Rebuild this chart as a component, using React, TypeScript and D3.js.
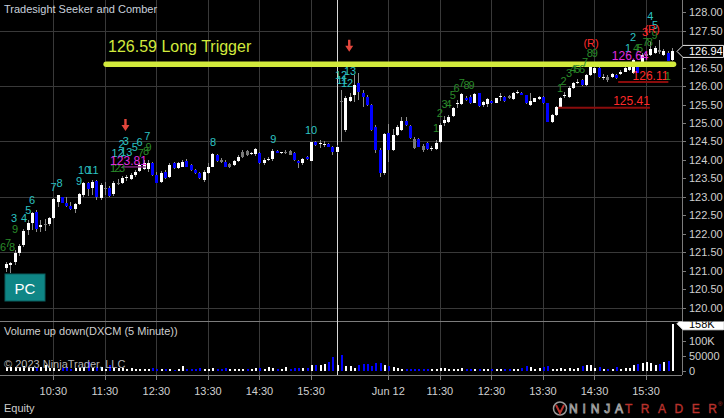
import React from "react";
import * as d3 from "d3";

// ---------- DATA ----------
const opens = [
  121.07, 121.15, 121.24, 121.49, 121.69, 122.10, 122.30, 122.60, 122.17, 122.26,
  122.26, 122.43, 122.87, 122.99, 122.83, 122.76, 122.66, 122.81, 123.05, 123.38,
  123.23, 123.43, 122.98, 123.24, 123.23, 123.08, 123.35, 123.38, 123.50, 123.47,
  123.59, 123.70, 123.75, 123.75, 123.91, 123.59, 123.41, 123.68, 123.54, 123.91,
  123.77, 123.82, 123.97, 123.86, 123.73, 123.65, 123.46, 123.64, 123.82, 124.13,
  124.00, 123.95, 123.82, 123.86, 123.98, 124.09, 124.24, 124.15, 124.15, 124.18,
  123.91, 124.01, 124.02, 124.25, 124.18, 124.21, 124.24, 124.18, 123.98, 123.92,
  124.09, 123.98, 124.49, 124.44, 124.42, 124.42, 124.36, 124.21,
  125.60, 124.81, 125.60, 125.76, 126.09, 125.80, 125.71, 125.49, 124.90, 124.27,
  123.64, 124.72, 124.27, 124.67, 124.81, 125.06, 124.92, 124.57, 124.56, 124.38,
  124.47, 124.31, 124.29, 124.49, 124.99, 125.04, 125.19, 125.53, 125.51, 125.69,
  125.71, 125.55, 125.80, 125.49, 125.51, 125.60, 125.55, 125.70, 125.71, 125.72,
  125.64, 125.84, 125.82, 125.76, 125.49, 125.58, 125.64, 125.71, 125.53, 125.03,
  125.22, 125.44, 125.75, 125.71, 125.94, 126.11, 126.17, 126.03, 126.30, 126.35,
  126.48, 126.25, 126.25, 126.24, 126.30, 126.33, 126.39, 126.44, 126.35, 126.53,
  126.57, 126.82, 126.84, 126.89, 126.98, 126.84, 126.90, 126.71,
];
const highs = [
  121.23, 121.24, 121.56, 121.72, 122.13, 122.37, 122.60, 122.64, 122.37, 122.40,
  122.46, 122.97, 123.05, 123.00, 122.99, 122.87, 122.83, 123.10, 123.41, 123.41,
  123.46, 123.46, 123.37, 123.41, 123.29, 123.43, 123.48, 123.56, 123.59, 123.65,
  123.73, 123.92, 124.00, 124.00, 123.94, 123.68, 123.70, 123.73, 123.91, 123.94,
  123.94, 124.00, 124.02, 123.89, 123.75, 123.68, 123.73, 123.91, 124.18, 124.15,
  124.05, 124.00, 123.91, 124.00, 124.13, 124.27, 124.27, 124.22, 124.33, 124.21,
  124.04, 124.08, 124.29, 124.27, 124.22, 124.27, 124.26, 124.21, 124.00, 124.04,
  124.11, 124.49, 124.51, 124.54, 124.51, 124.46, 124.38, 124.40,
  125.89, 125.73, 125.81, 126.30, 126.35, 125.89, 125.76, 125.52, 124.95, 124.32,
  124.73, 124.97, 124.83, 124.95, 125.16, 125.17, 124.95, 124.62, 124.59, 124.43,
  124.49, 124.38, 124.54, 124.99, 125.19, 125.22, 125.43, 125.62, 125.81, 125.73,
  125.75, 125.80, 125.82, 125.60, 125.67, 125.62, 125.69, 125.80, 125.74, 125.76,
  125.84, 125.89, 125.84, 125.77, 125.80, 125.69, 125.72, 125.73, 125.54, 125.24,
  125.46, 125.70, 125.84, 126.00, 126.11, 126.19, 126.19, 126.33, 126.66, 126.57,
  126.54, 126.33, 126.30, 126.36, 126.33, 126.44, 126.52, 126.57, 126.73, 126.65,
  126.90, 126.92, 127.20, 127.09, 127.25, 127.01, 126.95, 127.03,
];
const lows = [
  120.96, 120.93, 121.15, 121.40, 121.64, 121.96, 122.10, 122.05, 122.05, 122.07,
  122.21, 122.40, 122.72, 122.82, 122.73, 122.64, 122.55, 122.78, 123.00, 123.02,
  123.05, 122.91, 122.91, 123.05, 122.99, 123.02, 123.32, 123.36, 123.43, 123.46,
  123.54, 123.67, 123.73, 123.68, 123.56, 123.37, 123.37, 123.48, 123.50, 123.75,
  123.75, 123.80, 123.81, 123.70, 123.62, 123.48, 123.41, 123.62, 123.81, 123.94,
  123.91, 123.80, 123.79, 123.83, 123.95, 124.05, 124.11, 124.13, 124.11, 123.88,
  123.86, 123.97, 123.98, 124.18, 124.16, 124.16, 124.13, 123.97, 123.77, 123.86,
  124.00, 123.97, 124.38, 124.32, 124.35, 124.34, 124.13, 124.18,
  124.49, 124.76, 125.57, 125.57, 125.62, 125.44, 125.46, 124.78, 124.18, 123.54,
  123.59, 123.95, 124.24, 124.65, 124.78, 124.92, 124.57, 124.30, 124.34, 124.22,
  124.27, 124.24, 124.27, 124.47, 124.92, 124.99, 125.16, 125.40, 125.49, 125.60,
  125.52, 125.53, 125.44, 125.43, 125.44, 125.52, 125.53, 125.60, 125.58, 125.64,
  125.62, 125.79, 125.75, 125.52, 125.46, 125.56, 125.62, 125.52, 125.03, 124.99,
  125.19, 125.42, 125.68, 125.69, 125.92, 126.06, 126.00, 126.00, 126.27, 126.33,
  126.23, 126.17, 126.11, 126.22, 126.18, 126.30, 126.37, 126.41, 126.33, 126.35,
  126.54, 126.73, 126.82, 126.87, 126.87, 126.82, 126.67, 126.68,
];
const closes = [
  121.18, 121.21, 121.49, 121.67, 122.07, 122.30, 122.57, 122.12, 122.24, 122.26,
  122.43, 122.94, 123.05, 122.84, 122.75, 122.67, 122.80, 123.08, 123.37, 123.20,
  123.41, 122.99, 123.32, 123.25, 123.02, 123.38, 123.38, 123.51, 123.54, 123.59,
  123.68, 123.86, 123.91, 123.92, 123.59, 123.38, 123.65, 123.50, 123.86, 123.77,
  123.91, 123.95, 123.82, 123.73, 123.64, 123.50, 123.68, 123.82, 124.15, 123.97,
  123.94, 123.82, 123.88, 123.98, 124.07, 124.22, 124.13, 124.20, 124.29, 123.91,
  124.00, 124.02, 124.25, 124.20, 124.21, 124.22, 124.14, 124.00, 123.91, 124.02,
  124.02, 124.49, 124.40, 124.46, 124.43, 124.36, 124.22, 124.36,
  125.57, 125.67, 125.71, 126.03, 125.85, 125.71, 125.49, 124.81, 124.27, 123.64,
  124.70, 124.27, 124.67, 124.90, 125.06, 124.95, 124.59, 124.32, 124.36, 124.27,
  124.29, 124.32, 124.45, 124.95, 125.08, 125.17, 125.40, 125.54, 125.78, 125.62,
  125.53, 125.78, 125.46, 125.58, 125.64, 125.53, 125.67, 125.72, 125.60, 125.68,
  125.82, 125.85, 125.76, 125.53, 125.60, 125.67, 125.70, 125.53, 125.04, 125.22,
  125.44, 125.67, 125.77, 125.94, 126.08, 126.12, 126.03, 126.30, 126.53, 126.48,
  126.25, 126.26, 126.17, 126.33, 126.21, 126.39, 126.48, 126.53, 126.71, 126.36,
  126.84, 126.87, 127.00, 127.02, 126.92, 126.96, 126.69, 126.94,
];
const volumes = [
  12000, 14000, 13000, 13000, 15000, 13000, 12000, 9000, 14000, 20000,
  10000, 9000, 7000, 10000, 11000, 7000, 8000, 10000, 12000, 30000,
  8000, 14000, 12000, 6000, 20000, 10000, 8000, 10000, 7000, 8000,
  6000, 7000, 6000, 6000, 8000, 6000, 5000, 6000, 7000, 4000,
  5000, 17000, 6000, 5000, 6000, 10000, 5000, 6000, 8000, 7000,
  5000, 8000, 5000, 6000, 5000, 5000, 6000, 7000, 8000, 10000,
  6000, 14000, 9000, 6000, 7000, 14000, 5000, 10000, 10000, 9000,
  10000, 19000, 19000, 18000, 21000, 30000, 45000, 20000,
  53000, 16000, 16000, 8000, 20000, 24000, 24000, 15000, 27000, 27000,
  19000, 17000, 13000, 8000, 6000, 5000, 6000, 5000, 6000, 5000,
  6000, 6000, 6000, 10000, 8000, 6000, 7000, 6000, 8000, 5000,
  6000, 6000, 7000, 5000, 6000, 5000, 5000, 6000, 6000, 5000,
  7000, 5000, 8000, 17000, 14000, 6000, 8000, 13000, 16000, 6000,
  7000, 8000, 6000, 9000, 7000, 8000, 16000, 19000, 19000, 8000,
  12000, 5000, 6000, 7000, 13000, 6000, 9000, 10000, 19000, 22000,
  27000, 28000, 25000, 20000, 24000, 28000, 34000, 158000,
];
const grayPaintedBars = [9, 23, 26, 50, 52, 55, 56, 65, 66, 78, 95, 97, 117, 140, 149, 152];

const priceTicks = d3.range(120, 128.001, 0.5);
const gridPrices = [120, 121.5, 123, 124.5, 126, 127.5];
const timeTickBars = [11, 23, 35, 47, 59, 71, 89, 101, 113, 125, 137, 149];
const timeTickLabels = ["10:30", "11:30", "12:30", "13:30", "14:30", "15:30", "Jun 12", "11:30", "12:30", "13:30", "14:30", "15:30"];
const sessionBreakBar = 77;
const volumeTicks = [0, 50000, 100000];
const volumeTickLabels = ["0", "50000", "100K"];

const triggerPrice = 126.59;
const triggerBars = [23.3, 155.4];
const triggerText = "126.59 Long Trigger";
const lastPriceText = "126.94";
const lastVolumeText = "158K";

// [bar, price, text]
const cyanLabels: [number, number, string][] = [
  [1.85, 122.43, "3"], [4.2, 122.43, "4"], [5.2, 122.64, "5"], [6.05, 122.91, "6"],
  [11.05, 123.27, "7"], [12.45, 123.37, "8"], [17.0, 123.43, "9"], [18.2, 123.73, "10"], [20.2, 123.73, "11"],
  [26.9, 124.44, "2"], [27.9, 124.52, "3"], [26.0, 124.2, "12"], [28.0, 124.22, "13"],
  [30.0, 124.35, "5"], [31.1, 124.48, "6"], [32.9, 124.65, "7"],
  [48.2, 124.49, "8"], [62.2, 124.57, "9"], [71.0, 124.8, "10"],
  [78.0, 126.3, "12"], [80.1, 126.42, "13"], [78.2, 126.17, "11"], [79.4, 126.08, "12"],
  [144.8, 127.03, "1"], [146.0, 127.33, "2"], [150.0, 127.9, "4"], [151.1, 127.66, "5"],
];
const greenLabels: [number, number, string][] = [
  [-0.7, 121.64, "6"], [0.45, 121.75, "7"], [1.4, 121.64, "8"], [2.1, 122.13, "9"],
  [24.9, 123.78, "1"], [25.9, 123.78, "2"], [27.0, 123.78, "3"],
  [31.4, 124.19, "7"], [32.6, 124.24, "8"], [33.2, 124.35, "9"],
  [100.1, 124.86, "1"], [101.0, 125.27, "2"], [102.1, 125.51, "3"], [103.0, 125.51, "4"],
  [104.0, 125.76, "5"], [104.9, 125.95, "6"], [106.1, 126.08, "7"], [107.2, 126.03, "8"], [108.4, 126.03, "9"],
  [129.0, 125.94, "1"], [129.8, 126.14, "2"], [131.1, 126.35, "3"], [132.0, 126.45, "4"],
  [133.0, 126.45, "5"], [134.1, 126.46, "6"], [134.8, 126.66, "7"], [135.9, 126.89, "8"], [137.1, 126.89, "9"],
  [146.7, 127.03, "4"], [147.6, 127.03, "5"], [148.9, 127.2, "7"], [149.9, 127.2, "8"], [151.0, 127.38, "9"],
  [154.1, 126.27, "1"],
];
const redLabels: [number, number, string][] = [
  [136.2, 127.18, "(R)"], [148.8, 127.47, "3"], [150.4, 127.55, "(R)"],
];
const magentaLabels: [number, number, string][] = [
  [28.5, 123.97, "123.81"], [145.3, 126.81, "126.64"],
];
// [price, fromBar, toBar]
const magentaLevels: [number, number, number][] = [[123.81, 27.0, 32.5]];
const redLevels: [number, number, number][] = [[126.11, 142.5, 154.2], [125.41, 128.5, 149.9]];
// [bar, tip price]
const signalArrows: [number, number][] = [[27.8, 124.78], [79.9, 126.93]];

export default function App() {
  const W = 724;
  const H = 418;
  const plotRight = 682;
  const font = "'Liberation Sans', Arial, Helvetica, sans-serif";

  const x = d3.scaleLinear().domain([0, 155]).range([6.06, 671.8]);
  const y = d3.scaleLinear().domain([120, 128]).range([307.5, 12.3]);
  const yv = d3.scaleLinear().domain([0, 100000]).range([370.7, 341]);

  const graySet = new Set(grayPaintedBars);
  const bars = opens.map((o, i) => ({ i, o, h: highs[i], l: lows[i], c: closes[i], v: volumes[i] }));

  const gridColor = "#393939";
  const axisColor = "#7c7c7c";
  const textColor = "#cfcfcf";
  const cyan = "#2cc3c3";
  const green = "#2a8a2a";
  const red = "#ff2a2a";
  const magenta = "#e02ce0";
  const trig = "#d2ea3c";

  const lastY = y(closes[closes.length - 1]);
  const lastVy = yv(volumes[volumes.length - 1]);
  const shownPriceTicks = priceTicks.filter((p) => Math.abs(y(p) - lastY) > 10);

  return (
    <svg width={W} height={H} style={{ position: "fixed", left: 0, top: 0, display: "block" }} fontFamily={font}>
      <defs>
        <clipPath id="mainClip"><rect x={0} y={0} width={plotRight} height={320} /></clipPath>
        <clipPath id="volClip"><rect x={0} y={321.5} width={plotRight} height={53} /></clipPath>
        <clipPath id="volMarkClip"><rect x={0} y={321.5} width={W} height={53} /></clipPath>
      </defs>
      <rect x={0} y={0} width={W} height={H} fill="#000" />

      {/* horizontal grid */}
      {gridPrices.map((p) => (
        <line key={"g" + p} x1={0} x2={plotRight} y1={Math.round(y(p)) + 0.5} y2={Math.round(y(p)) + 0.5} stroke={gridColor} />
      ))}
      {/* vertical grid */}
      {timeTickBars.map((b) => (
        <line key={"v" + b} x1={Math.round(x(b)) + 0.5} x2={Math.round(x(b)) + 0.5} y1={0} y2={375} stroke={gridColor} />
      ))}

      {/* panel borders */}
      <line x1={0} x2={plotRight} y1={321.5} y2={321.5} stroke={axisColor} />
      <line x1={0} x2={plotRight} y1={375.5} y2={375.5} stroke={axisColor} />
      <line x1={plotRight + 0.5} x2={plotRight + 0.5} y1={0} y2={375} stroke={axisColor} />

      {/* session break */}
      <line x1={Math.round(x(sessionBreakBar)) + 0.5} x2={Math.round(x(sessionBreakBar)) + 0.5} y1={0} y2={375} stroke="#d8d8d8" />

      {/* candles */}
      <g clipPath="url(#mainClip)" shapeRendering="crispEdges">
        {bars.map((b) => {
          const cx = Math.round(x(b.i));
          const top = y(Math.max(b.o, b.c));
          const bot = y(Math.min(b.o, b.c));
          const fill = graySet.has(b.i) ? "#7a7a7a" : b.c >= b.o ? "#ffffff" : "#0000ff";
          return (
            <g key={"c" + b.i}>
              <line x1={cx + 0.5} x2={cx + 0.5} y1={y(b.h)} y2={y(b.l)} stroke="#8c8c8c" />
              <rect x={cx - 1} y={top} width={3} height={Math.max(1, bot - top)} fill={fill} />
            </g>
          );
        })}
      </g>

      {/* volume */}
      <g clipPath="url(#volClip)" shapeRendering="crispEdges">
        {bars.map((b) => {
          const cx = Math.round(x(b.i));
          return (
            <rect key={"vb" + b.i} x={cx} y={yv(b.v)} width={2} height={yv(0) - yv(b.v)}
              fill={b.c >= b.o ? "#ffffff" : "#0000ff"} />
          );
        })}
      </g>

      {/* magenta / red levels */}
      {magentaLevels.map(([p, a, bb], k) => (
        <line key={"ml" + k} x1={x(a)} x2={x(bb)} y1={y(p)} y2={y(p)} stroke="#7c237c" strokeWidth={1.5} />
      ))}
      {redLevels.map(([p, a, bb], k) => (
        <g key={"rl" + k}>
          <line x1={x(a)} x2={x(bb)} y1={y(p)} y2={y(p)} stroke="#8a0c0c" strokeWidth={2} />
          <text x={x(bb)} y={y(p) - 2.5} fill={red} fontSize={12} textAnchor="end">{p.toFixed(2)}</text>
        </g>
      ))}

      {/* trigger line */}
      <line x1={x(triggerBars[0])} x2={x(triggerBars[1])} y1={y(triggerPrice)} y2={y(triggerPrice)}
        stroke={trig} strokeWidth={5.5} strokeLinecap="round" />
      <text x={108} y={52} fill={trig} fontSize={16}>{triggerText}</text>

      {/* count labels */}
      {greenLabels.map(([b, p, t], k) => (
        <text key={"gl" + k} x={x(b)} y={y(p)} fill={green} fontSize={11} textAnchor="middle" dominantBaseline="central">{t}</text>
      ))}
      {cyanLabels.map(([b, p, t], k) => (
        <text key={"cl" + k} x={x(b)} y={y(p)} fill={cyan} fontSize={11} textAnchor="middle" dominantBaseline="central">{t}</text>
      ))}
      {redLabels.map(([b, p, t], k) => (
        <text key={"rd" + k} x={x(b)} y={y(p)} fill={red} fontSize={11} textAnchor="middle" dominantBaseline="central">{t}</text>
      ))}
      {magentaLabels.map(([b, p, t], k) => (
        <text key={"mg" + k} x={x(b)} y={y(p)} fill={magenta} fontSize={12} textAnchor="middle" dominantBaseline="central">{t}</text>
      ))}

      {/* arrows */}
      {signalArrows.map(([b, p], k) => {
        const cx = x(b);
        const ty = y(p);
        return (
          <path key={"ar" + k}
            d={`M${cx - 1.2},${ty - 12} L${cx + 1.2},${ty - 12} L${cx + 1.2},${ty - 6} L${cx + 4},${ty - 6} L${cx},${ty} L${cx - 4},${ty - 6} L${cx - 1.2},${ty - 6} Z`}
            fill="#e2463c" />
        );
      })}

      {/* PC box */}
      <rect x={5} y={274} width={40} height={27} fill="#0f8686" stroke="#0a5c5c" />
      <text x={25} y={288} fill="#ffffff" fontSize={15} textAnchor="middle" dominantBaseline="central">PC</text>

      {/* title texts */}
      <text x={4} y={13} fill="#c9d0dc" fontSize={11}>Tradesight Seeker and Comber</text>
      <text x={4} y={335} fill={textColor} fontSize={11}>Volume up down(DXCM (5 Minute))</text>
      <text x={4} y={368} fill="#b4b4b4" fontSize={11}>© 2023 NinjaTrader, LLC</text>
      <text x={4} y={412} fill={textColor} fontSize={11}>Equity</text>

      {/* price axis */}
      {shownPriceTicks.map((p) => (
        <g key={"pt" + p}>
          <line x1={plotRight} x2={plotRight + 4} y1={Math.round(y(p)) + 0.5} y2={Math.round(y(p)) + 0.5} stroke={axisColor} />
          <text x={689} y={y(p)} fill={textColor} fontSize={11} dominantBaseline="central">{p.toFixed(2)}</text>
        </g>
      ))}
      {/* last price marker */}
      <path d={`M${plotRight - 5},${lastY} L${plotRight + 1},${lastY - 6} L${W - 0.5},${lastY - 6} L${W - 0.5},${lastY + 6} L${plotRight + 1},${lastY + 6} Z`}
        fill="#000" stroke="#e8e8e8" />
      <text x={689} y={lastY} fill="#ffffff" fontSize={11} dominantBaseline="central">{lastPriceText}</text>

      {/* volume axis */}
      {volumeTicks.map((v, k) => (
        <g key={"vt" + v}>
          <line x1={plotRight} x2={plotRight + 4} y1={Math.round(yv(v)) + 0.5} y2={Math.round(yv(v)) + 0.5} stroke={axisColor} />
          <text x={689} y={yv(v)} fill={textColor} fontSize={11} dominantBaseline="central">{volumeTickLabels[k]}</text>
        </g>
      ))}
      <g clipPath="url(#volMarkClip)">
        <path d={`M${plotRight - 5},${lastVy} L${plotRight + 1},${lastVy - 6} L${W - 0.5},${lastVy - 6} L${W - 0.5},${lastVy + 6} L${plotRight + 1},${lastVy + 6} Z`}
          fill="#ffffff" stroke="#e8e8e8" />
        <text x={689} y={lastVy} fill="#000" fontSize={11} dominantBaseline="central">{lastVolumeText}</text>
      </g>

      {/* time axis */}
      {timeTickBars.map((b, k) => (
        <g key={"tt" + b}>
          <line x1={Math.round(x(b)) + 0.5} x2={Math.round(x(b)) + 0.5} y1={376} y2={380} stroke={axisColor} />
          <text x={x(b)} y={391} fill={textColor} fontSize={11} textAnchor="middle" dominantBaseline="central">{timeTickLabels[k]}</text>
        </g>
      ))}

      {/* NinjaTrader logo */}
      <g>
        <circle cx={560} cy={408.5} r={6.5} fill="none" stroke="#9a9a9a" strokeWidth={1.5} />
        <path d="M556,405 L560,413 L564,405" fill="none" stroke="#b8322c" strokeWidth={2} />
        <text x={569} y={413} fontSize={12} fill="none" stroke="#a0a0a0" strokeWidth={0.9} textLength={54} lengthAdjust="spacing">NINJA</text>
        <text x={625} y={413} fontSize={12} fill="#b8322c" stroke="#b8322c" strokeWidth={0.4} textLength={92} lengthAdjust="spacing">TRADER</text>
        <text x={718} y={406} fontSize={6} fill="#b8322c">®</text>
      </g>
    </svg>
  );
}
